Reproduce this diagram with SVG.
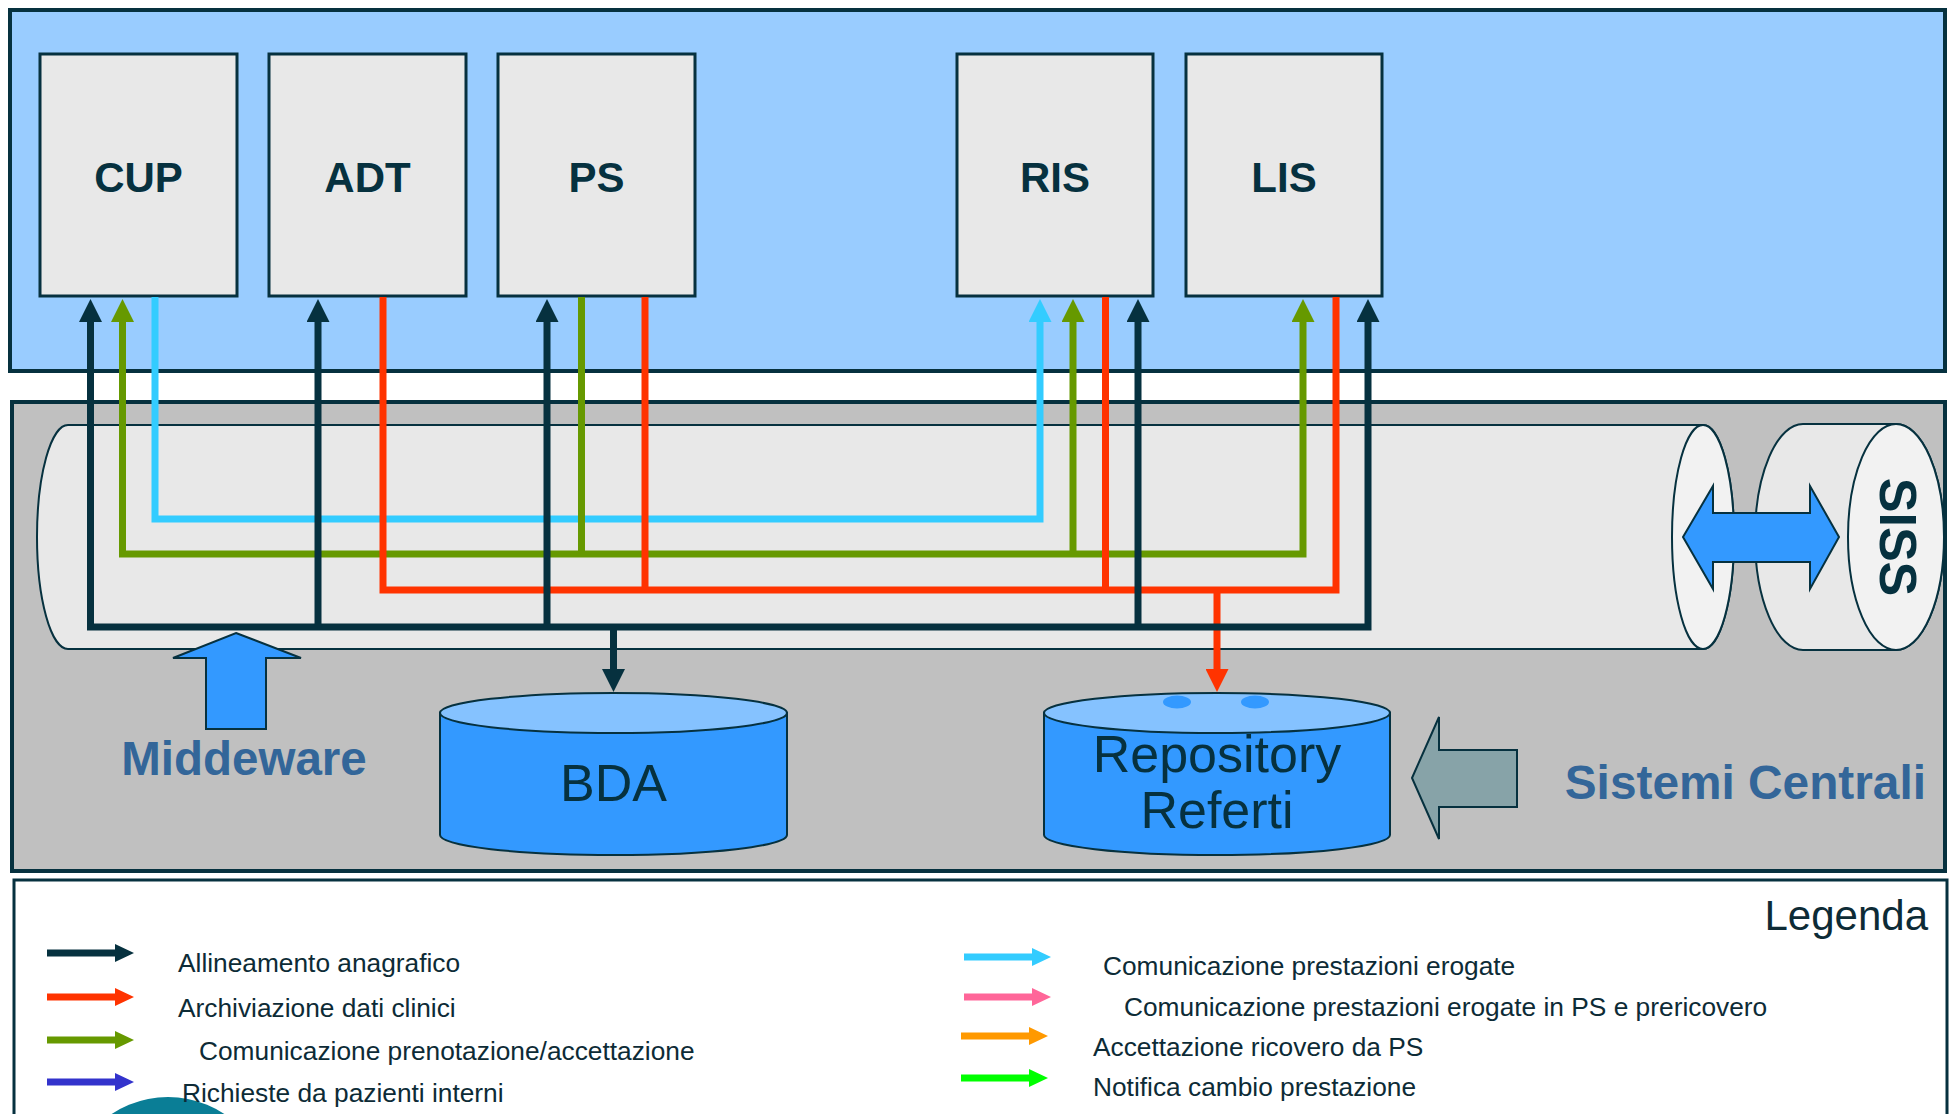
<svg xmlns="http://www.w3.org/2000/svg" width="1954" height="1114" viewBox="0 0 1954 1114">
<style>
.panel{stroke:#06313F;stroke-width:4}
.box{fill:#E8E8E8;stroke:#06313F;stroke-width:3}
.lbl{font-family:"Liberation Sans",Arial,sans-serif;font-weight:bold;font-size:42px;fill:#06313F;text-anchor:middle}
.big{font-family:"Liberation Sans",Arial,sans-serif;font-weight:bold;fill:#336699}
.cyl{font-family:"Liberation Sans",Arial,sans-serif;font-size:52px;fill:#06313F;text-anchor:middle}
.leg{font-family:"Liberation Sans",Arial,sans-serif;font-size:26.3px;fill:#0D2B36}
.thin{stroke:#06313F;stroke-width:2}
.c{fill:none;stroke-width:7;stroke-linejoin:miter;stroke-linecap:butt}
</style>
<defs>
<marker id="hd" markerUnits="userSpaceOnUse" markerWidth="23" markerHeight="23" refX="0" refY="11.5" orient="auto-start-reverse"><path d="M0,0 L23,11.5 L0,23 Z" fill="#06313F"/></marker>
<marker id="hg" markerUnits="userSpaceOnUse" markerWidth="23" markerHeight="23" refX="0" refY="11.5" orient="auto-start-reverse"><path d="M0,0 L23,11.5 L0,23 Z" fill="#669900"/></marker>
<marker id="hc" markerUnits="userSpaceOnUse" markerWidth="23" markerHeight="23" refX="0" refY="11.5" orient="auto-start-reverse"><path d="M0,0 L23,11.5 L0,23 Z" fill="#33CCFF"/></marker>
<marker id="hr" markerUnits="userSpaceOnUse" markerWidth="23" markerHeight="23" refX="0" refY="11.5" orient="auto-start-reverse"><path d="M0,0 L23,11.5 L0,23 Z" fill="#FF3300"/></marker>
<path id="la" d="M0,-3.5 H68 V-9 L87,0 L68,9 V3.5 H0 Z"/>
</defs>

<!-- panels -->
<rect class="panel" x="10" y="10" width="1935" height="361" fill="#99CCFF"/>
<rect class="panel" x="12" y="402" width="1933" height="469" fill="#C0C0C0"/>

<!-- middleware tube -->
<g id="middleware-bus">
<path d="M68,425 H1703 A31,112 0 0 1 1703,649 H68 A31,112 0 0 1 68,425 Z" fill="#E8E8E8" class="thin"/>
<ellipse cx="1703" cy="537" rx="31" ry="112" fill="#F2F2F2" class="thin"/>
</g>

<!-- SISS -->
<g id="siss">
<path d="M1803,424 H1896 A48,113 0 0 1 1896,650 H1803 A48,113 0 0 1 1803,424 Z" fill="#E8E8E8" class="thin"/>
<ellipse cx="1896" cy="537" rx="48" ry="113" fill="#F2F2F2" class="thin"/>
<text transform="translate(1880,537) rotate(90)" text-anchor="middle" font-family="Liberation Sans, Arial, sans-serif" font-weight="bold" font-size="52" fill="#06313F">SISS</text>
</g>
<polygon points="1683,537 1713,486 1713,513 1810,513 1810,486 1839,537 1810,589 1810,562 1713,562 1713,589" fill="#3399FF" class="thin"/>

<!-- nodes -->
<g id="CUP"><rect class="box" x="40" y="54" width="197" height="242"/><text class="lbl" x="138.5" y="192">CUP</text></g>
<g id="ADT"><rect class="box" x="269" y="54" width="197" height="242"/><text class="lbl" x="367.5" y="192">ADT</text></g>
<g id="PS"><rect class="box" x="498" y="54" width="197" height="242"/><text class="lbl" x="596.5" y="192">PS</text></g>
<g id="RIS"><rect class="box" x="957" y="54" width="196" height="242"/><text class="lbl" x="1055" y="192">RIS</text></g>
<g id="LIS"><rect class="box" x="1186" y="54" width="196" height="242"/><text class="lbl" x="1284" y="192">LIS</text></g>

<g id="BDA">
<path d="M440,713 V835 A173.5,20 0 0 0 787,835 V713 Z" fill="#3399FF" class="thin"/>
<ellipse cx="613.5" cy="713" rx="173.5" ry="20" fill="#85C2FF" class="thin"/>
<text class="cyl" x="613.5" y="801">BDA</text>
</g>

<g id="RepositoryReferti">
<path d="M1044,713 V835 A173,20 0 0 0 1390,835 V713 Z" fill="#3399FF" class="thin"/>
<ellipse cx="1217" cy="713" rx="173" ry="20" fill="#85C2FF" class="thin"/>
<ellipse cx="1177" cy="702" rx="14" ry="6.5" fill="#3399FF"/>
<ellipse cx="1255" cy="702" rx="14" ry="6.5" fill="#3399FF"/>
<text class="cyl" x="1217" y="772">Repository</text>
<text class="cyl" x="1217" y="828">Referti</text>
</g>

<g id="middleware-label">
<polygon points="236,633 301,658 266,658 266,729 206,729 206,658 173,658" fill="#3399FF" class="thin"/>
<text class="big" x="244" y="775" font-size="47.5" text-anchor="middle">Middeware</text>
</g>

<g id="sistemi-centrali">
<polygon points="1412,778 1439,717 1439,750 1517,750 1517,807 1439,807 1439,839" fill="#87A3A8" class="thin"/>
<text class="big" x="1926" y="799" font-size="47.8" text-anchor="end">Sistemi Centrali</text>
</g>

<!-- connectors -->
<g id="connectors">
<path class="c" stroke="#33CCFF" d="M155,297 V519 H1040 V322" marker-end="url(#hc)"/>
<path class="c" stroke="#669900" d="M122.5,322 V554 H1303 V322" marker-start="url(#hg)" marker-end="url(#hg)"/>
<path class="c" stroke="#669900" d="M581.5,297 V554"/>
<path class="c" stroke="#669900" d="M1073,554 V322" marker-end="url(#hg)"/>
<path class="c" stroke="#FF3300" d="M383,297 V590 H1336 V297"/>
<path class="c" stroke="#FF3300" d="M645,297 V590"/>
<path class="c" stroke="#FF3300" d="M1105.5,297 V590"/>
<path class="c" stroke="#FF3300" stroke-width="5" d="M1217,590 V669" marker-end="url(#hr)"/>
<path class="c" stroke="#06313F" d="M90.5,322 V627 H1368 V322" marker-start="url(#hd)" marker-end="url(#hd)"/>
<path class="c" stroke="#06313F" d="M318,627 V322" marker-end="url(#hd)"/>
<path class="c" stroke="#06313F" d="M547,627 V322" marker-end="url(#hd)"/>
<path class="c" stroke="#06313F" d="M1138,627 V322" marker-end="url(#hd)"/>
<path class="c" stroke="#06313F" stroke-width="5" d="M613.5,627 V669" marker-end="url(#hd)"/>
</g>

<!-- legend -->
<g id="legend">
<rect x="14" y="880" width="1933" height="260" fill="#FFFFFF" stroke="#06313F" stroke-width="3"/>
<circle cx="168" cy="1199" r="102" fill="#0A7E96"/>
<text class="leg" x="1928" y="930" style="font-size:42px" text-anchor="end">Legenda</text>
<use href="#la" x="47" y="953" fill="#06313F"/>
<use href="#la" x="47" y="997" fill="#FF3300"/>
<use href="#la" x="47" y="1040" fill="#669900"/>
<use href="#la" x="47" y="1082" fill="#3333CC"/>
<text class="leg" x="178" y="972">Allineamento anagrafico</text>
<text class="leg" x="178" y="1017">Archiviazione dati clinici</text>
<text class="leg" x="199" y="1060">Comunicazione prenotazione/accettazione</text>
<text class="leg" x="182" y="1102">Richieste da pazienti interni</text>
<use href="#la" x="964" y="957" fill="#33CCFF"/>
<use href="#la" x="964" y="997" fill="#FF6699"/>
<use href="#la" x="961" y="1036" fill="#FF9900"/>
<use href="#la" x="961" y="1078" fill="#00FF00"/>
<text class="leg" x="1103" y="975">Comunicazione prestazioni erogate</text>
<text class="leg" x="1124" y="1016">Comunicazione prestazioni erogate in PS e prericovero</text>
<text class="leg" x="1093" y="1056">Accettazione ricovero da PS</text>
<text class="leg" x="1093" y="1096">Notifica cambio prestazione</text>
</g>
</svg>
